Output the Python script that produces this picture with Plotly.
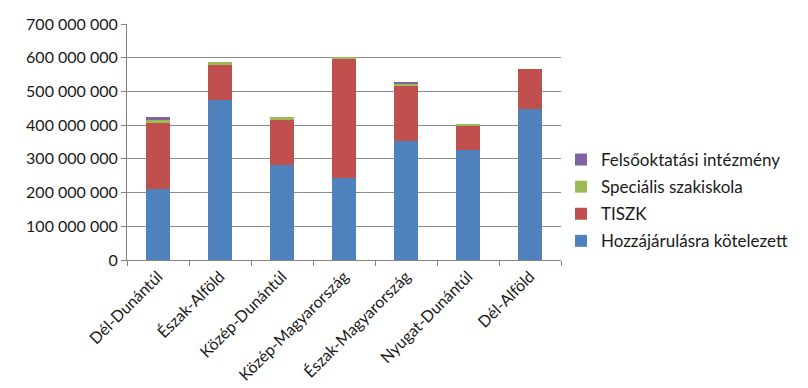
import plotly.graph_objects as go

categories = ["Dél-Dunántúl", "Észak-Alföld", "Közép-Dunántúl", "Közép-Magyarország",
              "Észak-Magyarország", "Nyugat-Dunántúl", "Dél-Alföld"]
hozzajarulasra = [210e6, 475e6, 282e6, 243e6, 354e6, 325e6, 448e6]
tiszk = [196e6, 103e6, 133e6, 352e6, 165e6, 75e6, 118e6]
specialis = [9e6, 10e6, 8e6, 8e6, 3e6, 4e6, 0]
felsooktatasi = [9e6, 0, 0, 0, 7e6, 0, 0]

series_names = ["Hozzájárulásra kötelezett", "TISZK", "Speciális szakiskola", "Felsőoktatási intézmény"]
series_values = [hozzajarulasra, tiszk, specialis, felsooktatasi]
colors = ["#4F81BD", "#C0504D", "#9BBB59", "#8064A2"]

tick_vals = [0, 100e6, 200e6, 300e6, 400e6, 500e6, 600e6, 700e6]
tick_text = ["0", "100 000 000", "200 000 000", "300 000 000", "400 000 000",
             "500 000 000", "600 000 000", "700 000 000"]

fig = go.Figure()
n = len(series_names)
for i, (name, vals, col) in enumerate(zip(series_names, series_values, colors)):
    fig.add_trace(go.Bar(x=categories, y=vals, name=name, marker_color=col,
                         marker_line_width=0, legendgroup="g%d" % (n - i),
                         legendrank=(n - i) * 100))

font_family = "Lato, 'Open Sans', sans-serif"
fig.update_layout(
    barmode="stack",
    bargap=0.6,
    width=800, height=380,
    margin=dict(l=119, r=247, t=16, b=128),
    paper_bgcolor="white", plot_bgcolor="white",
    font=dict(family=font_family, size=16, color="#1a1a1a"),
    legend=dict(x=1.0, xanchor="left", y=0.5, yanchor="top",
                traceorder="grouped", tracegroupgap=2,
                font=dict(size=17), itemwidth=30),
    xaxis=dict(showline=True, linecolor="#8C7F7A", linewidth=1,
               ticks="outside", tickson="boundaries", ticklen=5, tickcolor="#8C7F7A",
               tickangle=-45, showgrid=False, tickfont=dict(size=16), automargin=False),
    yaxis=dict(range=[0, 700e6], tickvals=tick_vals, ticktext=tick_text,
               showline=True, linecolor="#8C7F7A", linewidth=1,
               ticks="outside", ticklen=5, tickcolor="#8C7F7A",
               showgrid=True, gridcolor="#8A8A8A", gridwidth=1,
               zeroline=False, tickfont=dict(size=16), automargin=False),
)

fig.write_html("out.html")
